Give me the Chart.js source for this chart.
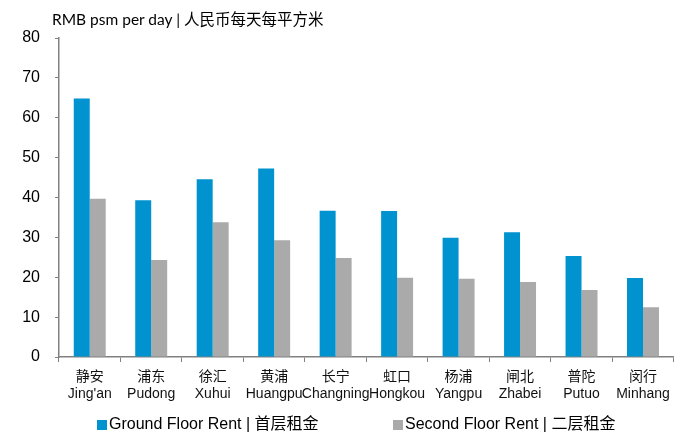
<!DOCTYPE html>
<html>
<head>
<meta charset="utf-8">
<script src="https://cdn.jsdelivr.net/npm/chart.js@4/dist/chart.umd.min.js"></script>
<style>
  html, body { margin: 0; padding: 0; background: #fff; }
  #wrap { position: relative; width: 677px; height: 434px; }
  #c { position: absolute; left: 0; top: 0; }
  #title { position: absolute; left: 52px; top: 7px; font: 15.5px Lato, "Noto Sans CJK SC", sans-serif; color: #000; white-space: nowrap; }
  #legend { position: absolute; top: 414px; left: 0; width: 677px; height: 20px; font: 16px "Liberation Sans", "Noto Sans CJK SC", sans-serif; color: #000; }
  .li { position: absolute; top: 0; white-space: nowrap; line-height: 20px; }
  .sw { display: inline-block; width: 10px; height: 10px; margin-right: 2px; vertical-align: -1px; }
</style>
</head>
<body>
<div id="wrap">
  <canvas id="c" width="677" height="434"></canvas>
  <div id="title">RMB psm per day | 人民币每天每平方米</div>
  <div id="legend"></div>
</div>
<script>
const categoriesCN = ['静安', '浦东', '徐汇', '黄浦', '长宁', '虹口', '杨浦', '闸北', '普陀', '闵行'];
const categoriesEN = ["Jing'an", 'Pudong', 'Xuhui', 'Huangpu', 'Changning', 'Hongkou', 'Yangpu', 'Zhabei', 'Putuo', 'Minhang'];
const groundFloorRent = [64.8, 39.3, 44.6, 47.3, 36.7, 36.6, 29.9, 31.3, 25.3, 19.8];
const secondFloorRent = [39.7, 24.3, 33.8, 29.3, 24.8, 19.9, 19.6, 18.8, 16.8, 12.5];
const seriesNames = ['Ground Floor Rent | 首层租金', 'Second Floor Rent | 二层租金'];
const yTicks = [0, 10, 20, 30, 40, 50, 60, 70, 80];

const colors = ['#0093CF', '#AAAAAA'];
const labels = categoriesCN.map((cn, i) => [cn, categoriesEN[i]]);

const chart = new Chart(document.getElementById('c'), {
  type: 'bar',
  data: {
    labels: labels,
    datasets: [
      { label: seriesNames[0], data: groundFloorRent, backgroundColor: colors[0], categoryPercentage: 0.52, barPercentage: 1.0 },
      { label: seriesNames[1], data: secondFloorRent, backgroundColor: colors[1], categoryPercentage: 0.52, barPercentage: 1.0 }
    ]
  },
  options: {
    responsive: false,
    animation: false,
    layout: { padding: { top: 38, right: 3, bottom: 27, left: 0 } },
    plugins: { legend: { display: false }, tooltip: { enabled: false }, title: { display: false } },
    scales: {
      x: {
        grid: { offset: true, drawOnChartArea: false, drawTicks: true, tickLength: 5, color: '#808080', lineWidth: 1 },
        border: { color: '#808080', width: 1.5 },
        ticks: { color: '#111', font: { family: '"Liberation Sans", "Noto Sans CJK SC", sans-serif', size: 14, lineHeight: 1.18 }, padding: 7, maxRotation: 0, autoSkip: false },
        afterFit: (s) => { s.height = 50; }
      },
      y: {
        min: 0, max: 80,
        afterBuildTicks: (s) => { s.ticks = yTicks.map(v => ({ value: v })); },
        grid: { drawOnChartArea: false, drawTicks: true, tickLength: 4, color: '#808080', lineWidth: 1 },
        border: { color: '#808080', width: 1.5 },
        ticks: { color: '#000', font: { family: '"Liberation Sans", sans-serif', size: 16 }, padding: 15 },
        afterFit: (s) => { s.width = 59; }
      }
    }
  }
});

// HTML legend generated from datasets
const legendPos = [97, 393];
const lg = document.getElementById('legend');
chart.data.datasets.forEach((ds, i) => {
  const d = document.createElement('div');
  d.className = 'li';
  d.style.left = legendPos[i] + 'px';
  const sw = document.createElement('span');
  sw.className = 'sw';
  sw.style.background = ds.backgroundColor;
  d.appendChild(sw);
  d.appendChild(document.createTextNode(ds.label));
  lg.appendChild(d);
});
</script>
</body>
</html>
